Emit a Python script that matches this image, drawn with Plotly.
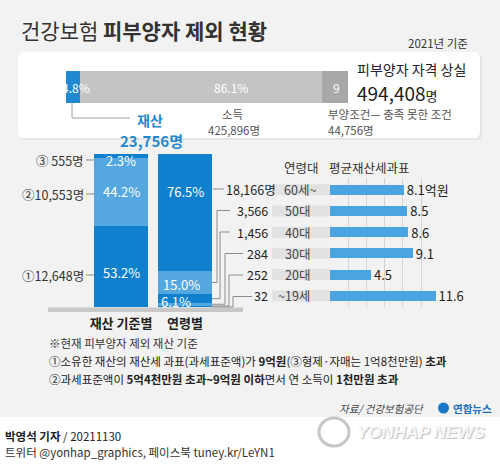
import plotly.graph_objects as go

W, H = 500, 464
def X(px): return px / W
def Y(py): return 1 - py / H

FONT = "Noto Sans CJK KR, Noto Sans, sans-serif"

# ---------------- data ----------------
total_lost = 494408
reason_labels = ["재산", "소득", "부양조건"]
reason_counts = [23756, 425896, 44756]
reason_pct_labels = ["4.8%", "86.1%", "9"]

prop_cats = ["재산 기준별", "연령별"]
crit_labels = ["①", "②", "③"]
crit_counts = [12648, 10553, 555]
crit_pct = ["53.2%", "44.2%", "2.3%"]

age_groups = ["60세~", "50대", "40대", "30대", "20대", "~19세"]
age_counts = [18166, 3566, 1456, 284, 252, 32]
age_pct = ["76.5%", "15.0%", "6.1%"]
age_tax_base = [8.1, 8.5, 8.6, 9.1, 4.5, 11.6]

# ---------------- colours ----------------
BLUE = "#1f89d2"
DARK = "#0f80cd"
LIGHT = "#55a7e0"
HBLUE = "#4ba4e2"
GRID = "#d4d4d4"
LINE = "#8c8c8c"

fig = go.Figure()
shapes = []
ann = []

# background
shapes.append(dict(type="rect", xref="paper", yref="paper", x0=0, x1=1, y0=Y(417), y1=1,
                   fillcolor="#f2f2f2", line_width=0, layer="below"))

def rrect(x0, y0, x1, y1, r):
    return (f"M {X(x0+r)},{Y(y0)} L {X(x1-r)},{Y(y0)} Q {X(x1)},{Y(y0)} {X(x1)},{Y(y0+r)} "
            f"L {X(x1)},{Y(y1-r)} Q {X(x1)},{Y(y1)} {X(x1-r)},{Y(y1)} L {X(x0+r)},{Y(y1)} "
            f"Q {X(x0)},{Y(y1)} {X(x0)},{Y(y1-r)} L {X(x0)},{Y(y0+r)} Q {X(x0)},{Y(y0)} {X(x0+r)},{Y(y0)} Z")

shapes.append(dict(type="path", xref="paper", yref="paper", path=rrect(19, 53, 482, 140, 6),
                   fillcolor="rgba(0,0,0,0.05)", line_width=0, layer="below"))
shapes.append(dict(type="path", xref="paper", yref="paper", path=rrect(18, 52, 480, 138, 6),
                   fillcolor="white", line_width=0, layer="below"))

# ---------------- top bar (x / y) ----------------
top_colors = [BLUE, "#c4c4c4", "#a8a8a8"]
for lab, c, col in zip(reason_labels, reason_counts, top_colors):
    fig.add_trace(go.Bar(x=[c], y=[0], orientation="h", width=1, marker=dict(color=col, line_width=0),
                         xaxis="x", yaxis="y", name=lab, hoverinfo="skip"))
top_x0, top_x1 = 66, 348
top_y0, top_y1 = 71, 103
tmid = (top_y0 + top_y1) / 2
pct_px = [76, 231, 336]
for t, xp in zip(reason_pct_labels, pct_px):
    ann.append(dict(x=X(xp), y=Y(tmid), text=t, font=dict(size=12, color="white")))

# connector from 재산 segment
shapes.append(dict(type="path", xref="paper", yref="paper",
                   path=f"M {X(72)},{Y(103)} L {X(72)},{Y(118)} L {X(130)},{Y(118)}",
                   line=dict(color="#a0a0a0", width=1)))
ann.append(dict(x=X(150), y=Y(120), text="<b>재산</b>", font=dict(size=14, color=BLUE)))
ann.append(dict(x=X(151), y=Y(140), text=f"<b>{reason_counts[0]:,}명</b>", font=dict(size=15, color=BLUE)))
ann.append(dict(x=X(232), y=Y(114), text="소득", font=dict(size=11.5, color="#555")))
ann.append(dict(x=X(234), y=Y(130), text=f"{reason_counts[1]:,}명", font=dict(size=11.5, color="#555")))
ann.append(dict(x=X(326), y=Y(114), text="부양조건— 충족 못한 조건", xanchor="left", font=dict(size=11.5, color="#555")))
ann.append(dict(x=X(326), y=Y(130), text=f"{reason_counts[2]:,}명", xanchor="left", font=dict(size=11.5, color="#555")))
ann.append(dict(x=X(355), y=Y(69), text="피부양자 자격 상실", xanchor="left", font=dict(size=14, color="#222")))
ann.append(dict(x=X(355), y=Y(92), text=f"{total_lost:,}<span style='font-size:13px'>명</span>",
                xanchor="left", font=dict(size=19, color="#222")))

# title
ann.append(dict(x=X(19), y=Y(30), xanchor="left", text="건강보험 <b>피부양자 제외 현황</b>",
                font=dict(size=21, color="#333")))
ann.append(dict(x=X(470), y=Y(43), xanchor="right", text="2021년 기준", font=dict(size=11.5, color="#333")))

# ---------------- stacked columns (x2 / y2) ----------------
col_top, col_bot = 154, 307
col_dom_x = (89, 217)
crit_colors = [DARK, LIGHT, DARK]
for lab, c, col in zip(crit_labels, crit_counts, crit_colors):
    fig.add_trace(go.Bar(x=[prop_cats[0]], y=[c], width=0.84, marker=dict(color=col, line_width=0),
                         xaxis="x2", yaxis="y2", name=lab, hoverinfo="skip"))
age_colors = [DARK, LIGHT, DARK, LIGHT, DARK, LIGHT]
for lab, c, col in reversed(list(zip(age_groups, age_counts, age_colors))):
    fig.add_trace(go.Bar(x=[prop_cats[1]], y=[c], width=0.84, marker=dict(color=col, line_width=0),
                         xaxis="x2", yaxis="y2", name=lab, hoverinfo="skip"))
T = sum(crit_counts)
bar_w_px = 0.84 * (col_dom_x[1] - col_dom_x[0]) / 2
c1 = col_dom_x[0] + (col_dom_x[1] - col_dom_x[0]) / 4
c2 = col_dom_x[0] + 3 * (col_dom_x[1] - col_dom_x[0]) / 4

def ypx(v):
    return col_bot - v / T * (col_bot - col_top)

# percent labels
crit_lab_py = [272, 192, 160]
for t, yp in zip(crit_pct, crit_lab_py):
    ann.append(dict(x=X(c1), y=Y(yp), text=t, font=dict(size=13, color="white")))
age_lab_pos = [(c2, 191), (c2 - 4, 284), (c2 - 9, 301)]
for t, (xp, yp) in zip(age_pct, age_lab_pos):
    ann.append(dict(x=X(xp), y=Y(yp), text=t, font=dict(size=13, color="white")))

# left labels
left_py = [275, 194, 160]
for lab, c, yp in zip(crit_labels, crit_counts, left_py):
    sep = " " if c < 1000 else ""
    ann.append(dict(x=X(86), y=Y(yp), xanchor="right", text=f"{lab}{sep}{c:,}명",
                    font=dict(size=12.5, color="#333")))
    shapes.append(dict(type="line", xref="paper", yref="paper", x0=X(86), x1=X(c1 - bar_w_px / 2),
                       y0=Y(yp), y1=Y(yp), line=dict(color=LINE, width=1)))

# baseline shadow
shapes.append(dict(type="rect", xref="paper", yref="paper", x0=X(48), x1=X(243), y0=Y(312), y1=Y(307.5),
                   fillcolor="#c8c8c8", line_width=0, layer="below"))

# ---------------- horizontal bars (x3 / y3) ----------------
hx0 = 330
px_per = 9.1
hrange = 11.9
row_top, row_bot = 178.25, 307.25
fig.add_trace(go.Bar(y=age_groups, x=age_tax_base, orientation="h", width=0.47,
                     marker=dict(color=HBLUE, line_width=0), xaxis="x3", yaxis="y3",
                     text=[f"{v}억원" if i == 0 else f"{v}" for i, v in enumerate(age_tax_base)],
                     textposition="outside", constraintext="none",
                     textfont=dict(size=13, color="#222", family=FONT),
                     cliponaxis=False, hoverinfo="skip"))
step = (row_bot - row_top) / len(age_groups)
row_py = [row_top + (i + 0.5) * step for i in range(len(age_groups))]

ann.append(dict(x=X(301), y=Y(167), text="연령대", font=dict(size=12.5, color="#333")))
ann.append(dict(x=X(369), y=Y(167), text="평균재산세과표", font=dict(size=12.5, color="#333")))

for i, (g, c) in enumerate(zip(age_groups, age_counts)):
    shapes.append(dict(type="rect", xref="paper", yref="y3", x0=X(272), x1=X(hx0),
                       y0=i - 0.26, y1=i + 0.26, fillcolor="#e2e2e2", line_width=0, layer="below"))
    txt = f"{c:,}명" if i == 0 else f"{c:,}"
    ann.append(dict(x=X(278 if i == 0 else 270), y=g, yref="y3", xanchor="right", text=txt,
                    font=dict(size=12.5, color="#222")))
    ann.append(dict(x=X(318 if i == 0 else 312), y=g, yref="y3", xanchor="right", text=g,
                    font=dict(size=12.5, color="#444")))

# connectors from 연령별 column to rows
bar_edge = c2 + bar_w_px / 2
elbow_x = [None, 217, 220, 225, 229, 233]
end_x = [224, 230, 230, 243, 243, 252]
for i, c in enumerate(age_counts):
    below = sum(age_counts[i + 1:])
    seg_py = ypx(below + c / 2)
    if i == 0:
        path = f"M {X(bar_edge + 1)},{Y(row_py[i])} L {X(end_x[i])},{Y(row_py[i])}"
    else:
        path = (f"M {X(bar_edge)},{Y(seg_py)} L {X(elbow_x[i])},{Y(seg_py)} "
                f"L {X(elbow_x[i])},{Y(row_py[i])} L {X(end_x[i])},{Y(row_py[i])}")
    shapes.append(dict(type="path", xref="paper", yref="paper", path=path, line=dict(color=LINE, width=1)))

# ---------------- notes ----------------
ann.append(dict(x=X(47), y=Y(343), xanchor="left", text="※현재 피부양자 제외 재산 기준",
                font=dict(size=11.5, color="#333")))
ann.append(dict(x=X(47), y=Y(361), xanchor="left",
                text="①소유한 재산의 재산세 과표(과세표준액)가 <b>9억원</b>(③형제·자매는 1억8천만원) <b>초과</b>",
                font=dict(size=11.5, color="#222")))
ann.append(dict(x=X(47), y=Y(379), xanchor="left",
                text="②과세표준액이 <b>5억4천만원 초과~9억원 이하</b>면서 연 소득이 <b>1천만원 초과</b>",
                font=dict(size=11.5, color="#222")))
ann.append(dict(x=X(426), y=Y(408), xanchor="right", text="<i>자료/ 건강보험공단</i>",
                font=dict(size=10.5, color="#444")))
shapes.append(dict(type="circle", xref="paper", yref="paper", x0=X(438), x1=X(449), y0=Y(413.5), y1=Y(402.5),
                   fillcolor="#1a78c8", line_width=0))
ann.append(dict(x=X(451), y=Y(408), xanchor="left", text="<b>연합뉴스</b>", font=dict(size=10.5, color="#1a6fc0")))

# footer
ann.append(dict(x=X(3), y=Y(436), xanchor="left", text="<b>박영석 기자</b> / 20211130",
                font=dict(size=11.5, color="#222")))
ann.append(dict(x=X(3), y=Y(452), xanchor="left", text="트위터 @yonhap_graphics, 페이스북 tuney.kr/LeYN1",
                font=dict(size=11.5, color="#333")))

# watermark
shapes.append(dict(type="circle", xref="paper", yref="paper", x0=X(319), x1=X(349), y0=Y(446), y1=Y(418),
                   fillcolor="white", line=dict(color="#c6c6c6", width=3)))
ann.append(dict(x=X(356), y=Y(433), xanchor="left", text="<b><i>YONHAP NEWS</i></b>",
                font=dict(size=17, color="#c4c4c4", family="Liberation Sans, Arial, sans-serif")))
ann.append(dict(x=X(355), y=Y(432), xanchor="left", text="<b><i>YONHAP NEWS</i></b>",
                font=dict(size=17, color="#f6f6f6", family="Liberation Sans, Arial, sans-serif")))

for a in ann:
    a.setdefault("xref", "paper")
    a.setdefault("yref", "paper")
    a.setdefault("showarrow", False)
    a.setdefault("xanchor", "center")
    a.setdefault("yanchor", "middle")
    a["font"].setdefault("family", FONT)

fig.update_layout(
    width=W, height=H, margin=dict(l=0, r=0, t=0, b=0),
    paper_bgcolor="white", plot_bgcolor="rgba(0,0,0,0)",
    barmode="stack", showlegend=False,
    font=dict(family=FONT),
    xaxis=dict(domain=[X(top_x0), X(top_x1)], range=[0, total_lost], visible=False, fixedrange=True),
    yaxis=dict(domain=[Y(top_y1), Y(top_y0)], range=[-0.5, 0.5], visible=False, fixedrange=True),
    xaxis2=dict(domain=[X(col_dom_x[0]), X(col_dom_x[1])], type="category", categoryarray=prop_cats,
                anchor="y2", showgrid=False, zeroline=False, showline=False, ticks="",
                tickvals=prop_cats, ticktext=[f"<b>{c}</b>" for c in prop_cats],
                tickfont=dict(size=13, color="#222", family=FONT), ticklabelstandoff=7),
    yaxis2=dict(domain=[Y(col_bot), Y(col_top)], range=[0, T], visible=False, anchor="x2"),
    xaxis3=dict(domain=[X(hx0), X(hx0 + hrange * px_per)], range=[0, hrange], anchor="y3",
                showgrid=True, gridcolor=GRID, gridwidth=1, dtick=2, tick0=0, showticklabels=False,
                zeroline=False, showline=False, ticks=""),
    yaxis3=dict(domain=[Y(row_bot), Y(row_top)], type="category", categoryarray=age_groups,
                autorange="reversed", visible=False, anchor="x3"),
    shapes=shapes, annotations=ann,
)

fig.write_html("out.html", config={"displayModeBar": False},
               post_script="document.body.style.margin='0';document.body.style.overflow='hidden';")
